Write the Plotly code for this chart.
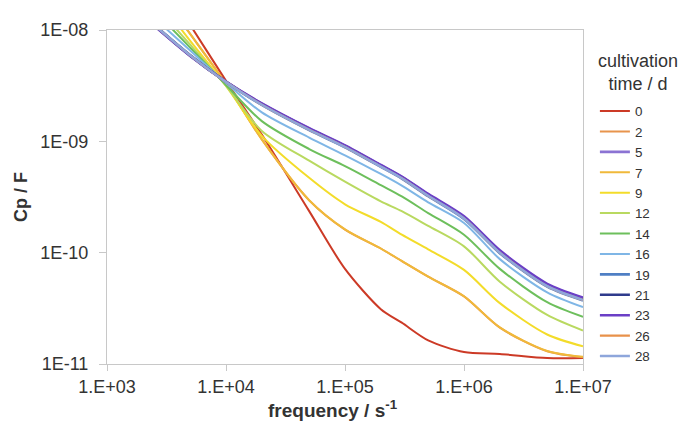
import plotly.graph_objects as go

freq = [2e3, 5e3, 1e4, 2e4, 5e4, 1e5, 2e5, 3e5, 5e5, 1e6, 2e6, 5e6, 1e7]

days = ["0", "2", "5", "7", "9", "12", "14", "16", "19", "21", "23", "26", "28"]

cp_0 = [4.95e-8, 1.11e-8, 3.49e-9, 1.15e-9, 2.36e-10, 7.15e-11, 3.11e-11, 2.35e-11, 1.63e-11, 1.28e-11, 1.23e-11, 1.13e-11, 1.13e-11]
cp_2 = [3.51e-8, 9.23e-9, 3.28e-9, 1.04e-9, 2.95e-10, 1.61e-10, 1.09e-10, 8.40e-11, 6.08e-11, 4.05e-11, 2.12e-11, 1.30e-11, 1.15e-11]
cp_5 = [1.36e-8, 5.91e-9, 3.42e-9, 2.15e-9, 1.28e-9, 8.97e-10, 5.98e-10, 4.70e-10, 3.27e-10, 2.05e-10, 1.01e-10, 5.06e-11, 3.81e-11]
cp_7 = [3.50e-8, 9.20e-9, 3.28e-9, 1.04e-9, 2.96e-10, 1.62e-10, 1.09e-10, 8.42e-11, 6.10e-11, 4.06e-11, 2.13e-11, 1.31e-11, 1.16e-11]
cp_9 = [2.81e-8, 8.00e-9, 3.15e-9, 1.12e-9, 4.70e-10, 2.72e-10, 1.89e-10, 1.45e-10, 1.07e-10, 7.00e-11, 3.52e-11, 1.84e-11, 1.44e-11]
cp_12 = [2.20e-8, 7.38e-9, 3.15e-9, 1.24e-9, 6.70e-10, 4.34e-10, 2.89e-10, 2.36e-10, 1.74e-10, 1.14e-10, 5.49e-11, 2.76e-11, 2.00e-11]
cp_14 = [1.91e-8, 6.95e-9, 3.21e-9, 1.52e-9, 8.53e-10, 5.99e-10, 4.04e-10, 3.20e-10, 2.27e-10, 1.45e-10, 7.15e-11, 3.59e-11, 2.65e-11]
cp_16 = [1.59e-8, 6.53e-9, 3.35e-9, 1.82e-9, 1.08e-9, 7.49e-10, 5.09e-10, 4.00e-10, 2.83e-10, 1.85e-10, 8.75e-11, 4.40e-11, 3.24e-11]
cp_19 = [1.37e-8, 5.95e-9, 3.42e-9, 2.12e-9, 1.26e-9, 8.85e-10, 5.90e-10, 4.63e-10, 3.21e-10, 2.01e-10, 9.90e-11, 4.95e-11, 3.72e-11]
cp_21 = [1.35e-8, 5.88e-9, 3.43e-9, 2.17e-9, 1.30e-9, 9.10e-10, 6.07e-10, 4.77e-10, 3.32e-10, 2.08e-10, 1.03e-10, 5.15e-11, 3.88e-11]
cp_23 = [1.34e-8, 5.85e-9, 3.44e-9, 2.19e-9, 1.31e-9, 9.20e-10, 6.14e-10, 4.83e-10, 3.37e-10, 2.12e-10, 1.05e-10, 5.25e-11, 3.95e-11]
cp_26 = [1.36e-8, 5.92e-9, 3.41e-9, 2.13e-9, 1.27e-9, 8.90e-10, 5.93e-10, 4.66e-10, 3.24e-10, 2.03e-10, 1.00e-10, 5.00e-11, 3.76e-11]
cp_28 = [1.36e-8, 5.92e-9, 3.41e-9, 2.13e-9, 1.27e-9, 8.90e-10, 5.93e-10, 4.66e-10, 3.24e-10, 2.03e-10, 1.00e-10, 5.00e-11, 3.76e-11]

series = [cp_0, cp_2, cp_5, cp_7, cp_9, cp_12, cp_14, cp_16, cp_19, cp_21, cp_23, cp_26, cp_28]
colors = ["#cc3a26", "#e8944c", "#8b73d3", "#f0b93a", "#f3dc2a", "#b9d960", "#6dbf5c",
          "#7fb6e6", "#4f7fc4", "#2f3b8c", "#6b3fc6", "#e8914a", "#8ea6db"]
widths = [2, 2, 2.6, 2, 2, 2, 2, 2, 2.6, 2.6, 2.6, 2.2, 2.4]

x_ticks = [1e3, 1e4, 1e5, 1e6, 1e7]
x_ticktext = ["1.E+03", "1.E+04", "1.E+05", "1.E+06", "1.E+07"]
y_ticks = [1e-11, 1e-10, 1e-9, 1e-8]
y_ticktext = ["1E-11", "1E-10", "1E-09", "1E-08"]

fig = go.Figure()
for d, ys, c, w in zip(days, series, colors, widths):
    fig.add_trace(go.Scatter(
        x=freq, y=ys, mode="lines", name=d,
        line=dict(color=c, width=w, shape="spline", smoothing=0.8),
    ))

font_family = "Arial, Liberation Sans, sans-serif"
txt = "#333333"
fig.update_layout(
    width=678, height=413,
    margin=dict(l=99, r=103, t=15, b=57),
    paper_bgcolor="white", plot_bgcolor="white",
    font=dict(family=font_family, size=17, color=txt),
    showlegend=True,
    legend=dict(
        x=1.025, xanchor="left", y=0.803, yanchor="top",
        font=dict(size=13.4, color=txt),
        tracegroupgap=0, itemwidth=30,
        bgcolor="rgba(0,0,0,0)",
    ),
    xaxis=dict(
        type="log", range=[3, 7],
        tickvals=x_ticks, ticktext=x_ticktext,
        showgrid=False, zeroline=False,
        showline=True, linecolor="#c8c8c8", linewidth=1, mirror=True,
        ticks="outside", ticklen=6, tickcolor="#c8c8c8",
        tickfont=dict(size=18, color=txt),
    ),
    yaxis=dict(
        type="log", range=[-11, -8],
        tickvals=y_ticks, ticktext=y_ticktext,
        showgrid=False, zeroline=False,
        showline=True, linecolor="#c8c8c8", linewidth=1, mirror=True,
        ticks="outside", ticklen=7, tickcolor="#c8c8c8",
        ticklabelstandoff=7,
        tickfont=dict(size=18, color=txt),
        title=dict(text="<b>Cp / F</b>", font=dict(size=18, color=txt), standoff=8),
    ),
    annotations=[
        dict(text="<b>frequency / s<sup>-1</sup></b>", xref="paper", yref="paper",
             x=0.475, y=-0.135, xanchor="center", yanchor="middle", showarrow=False,
             font=dict(size=19, color=txt)),
        dict(text="cultivation<br>time / d", xref="paper", yref="paper",
             x=1.115, y=0.873, xanchor="center", yanchor="middle", showarrow=False,
             align="center", font=dict(size=18, color=txt)),
    ],
)

fig.write_html("out.html")
